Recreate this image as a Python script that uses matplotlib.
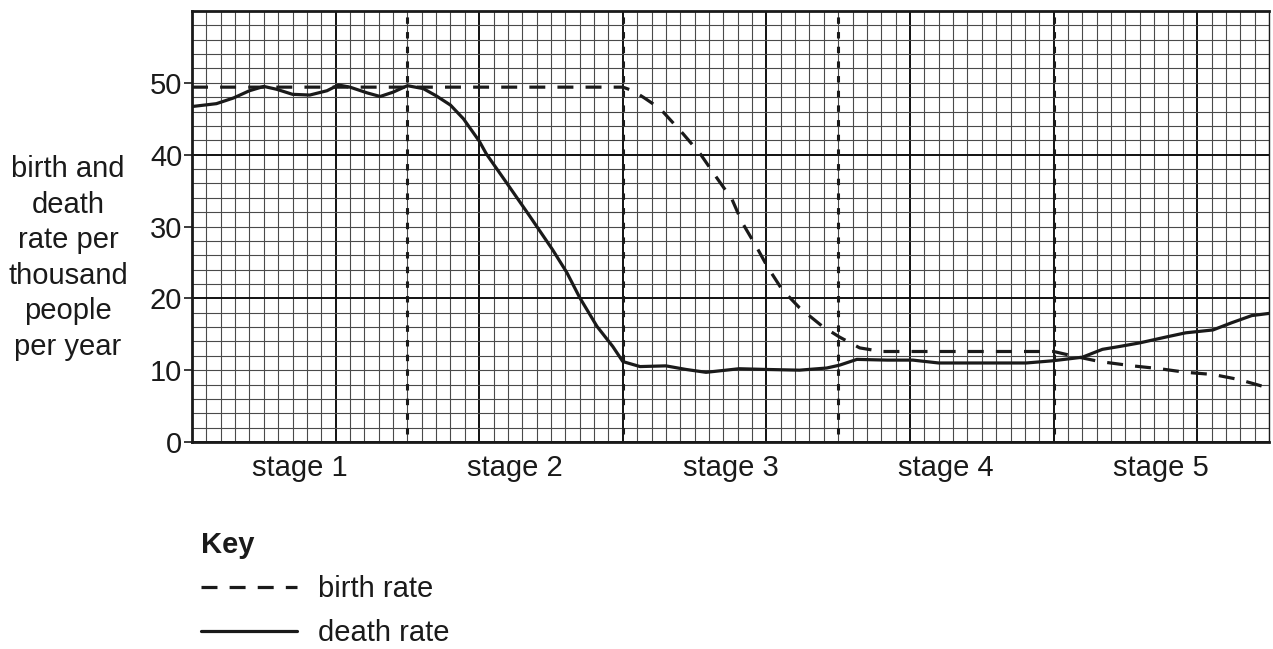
import matplotlib
matplotlib.use("Agg")
import matplotlib.pyplot as plt
import numpy as np

plt.rcParams['font.family'] = ['Liberation Sans', 'DejaVu Sans']

# ---- data (x in grid squares, y in births/deaths per thousand) ----
birth_x = [0, 30, 30.7, 31.5, 32.6, 34.2, 35.4, 36.5, 37.6, 38.3, 39.3, 40.1, 41.1,
           42.3, 43.9, 45.1, 46.5, 48, 60, 61.3, 63.2, 65.5, 67.4, 69.2, 71.1, 72.9, 75]
birth_y = [49.4, 49.4, 48.9, 47.9, 46.4, 42.9, 40.1, 36.9, 33.8, 30.6, 27.2, 24.3, 21.2,
           18.7, 16.1, 14.6, 13.1, 12.6, 12.6, 12.0, 11.2, 10.6, 10.2, 9.7, 9.4, 8.7, 7.5]

death_x = [0, 1.7, 2.9, 4, 5, 5.9, 7, 8.2, 9.4, 10.2, 11, 12.2, 13.1, 14, 15, 16.1, 17,
           18, 18.9, 20, 20.5, 21.9, 23.5, 25.1, 26.1, 27, 28.2, 29.3, 30, 31.2, 33, 34.4,
           35.8, 38.1, 40, 42.3, 44.2, 45.1, 46.3, 48.4, 50.2, 52, 55.3, 58.1, 59.9, 62,
           63.4, 64.6, 66, 67.8, 69.2, 71.1, 72.4, 73.8, 75]
death_y = [46.7, 47.1, 47.9, 48.9, 49.5, 49.1, 48.4, 48.3, 48.9, 49.7, 49.4, 48.6, 48.1,
           48.7, 49.6, 49.2, 48.2, 46.9, 45, 41.9, 40.1, 36.1, 31.5, 26.8, 23.6, 20.1, 16.1,
           13.3, 11.2, 10.5, 10.6, 10.1, 9.7, 10.2, 10.1, 10.0, 10.3, 10.7, 11.5, 11.4,
           11.4, 11.0, 11.0, 11.0, 11.3, 11.8, 12.9, 13.3, 13.8, 14.6, 15.2, 15.6, 16.6,
           17.6, 17.9]

stage_bounds = [15, 30, 45, 60]
stage_centers = [7.5, 22.5, 37.5, 52.5, 67.5]
stage_labels = ["stage 1", "stage 2", "stage 3", "stage 4", "stage 5"]
y_ticks = [0, 10, 20, 30, 40, 50]
y_label = "birth and\ndeath\nrate per\nthousand\npeople\nper year"

X_MAX, Y_MAX = 75, 60
FS = 21
INK = '#1a1a1a'

fig = plt.figure(figsize=(12.73, 6.49), dpi=100)
ax = fig.add_axes([192/1273, 1-442/649, (1269-192)/1273, (442-11)/649])
ax.set_xlim(0, X_MAX)
ax.set_ylim(0, Y_MAX)

# graph-paper grid
for gx in np.arange(0, X_MAX + 1, 1):
    major = gx % 10 == 0
    ax.axvline(gx, color='#111111' if major else '#4a4a4a',
               lw=1.4 if major else 0.8, zorder=1)
for gy in np.arange(0, Y_MAX + 1, 2):
    major = gy % 20 == 0
    ax.axhline(gy, color='#111111' if major else '#4a4a4a',
               lw=1.4 if major else 0.8, zorder=1)

# stage boundaries
for sb in stage_bounds:
    ax.plot([sb, sb], [1.1, Y_MAX - 0.2], color=INK, lw=2.2,
            dashes=(2.1, 2.7), zorder=2)

ax.plot(birth_x, birth_y, color=INK, lw=2.3, dashes=(5.0, 3.8),
        solid_joinstyle='round', label='birth rate', zorder=3)
ax.plot(death_x, death_y, color=INK, lw=2.3, solid_joinstyle='round',
        solid_capstyle='round', label='death rate', zorder=3)

for s in ax.spines.values():
    s.set_color(INK)
ax.spines['left'].set_linewidth(2.0)
ax.spines['bottom'].set_linewidth(2.0)
ax.spines['top'].set_linewidth(2.0)
ax.spines['right'].set_linewidth(1.0)

ax.set_yticks(y_ticks)
ax.set_yticklabels([str(t) for t in y_ticks], fontsize=FS, color=INK)
ax.tick_params(axis='y', length=6, width=1.2, pad=1, color=INK)
ax.set_xticks(stage_centers)
ax.set_xticklabels(stage_labels, fontsize=FS, color=INK)
ax.tick_params(axis='x', length=0, pad=9)

fig.text(68/1273, 1-258/649, y_label, ha='center', va='center',
         multialignment='center', fontsize=FS, color=INK, linespacing=1.34)

leg = fig.legend(loc='upper left', bbox_to_anchor=(201/1273, 1-531/649),
                 frameon=False, title='Key', alignment='left',
                 fontsize=FS, handlelength=3.3, handletextpad=0.7,
                 labelspacing=0.55, borderpad=0, borderaxespad=0,
                 labelcolor=INK)
leg.get_title().set_fontweight('bold')
leg.get_title().set_fontsize(FS)
leg.get_title().set_color(INK)

fig.savefig('out.png', dpi=100)
